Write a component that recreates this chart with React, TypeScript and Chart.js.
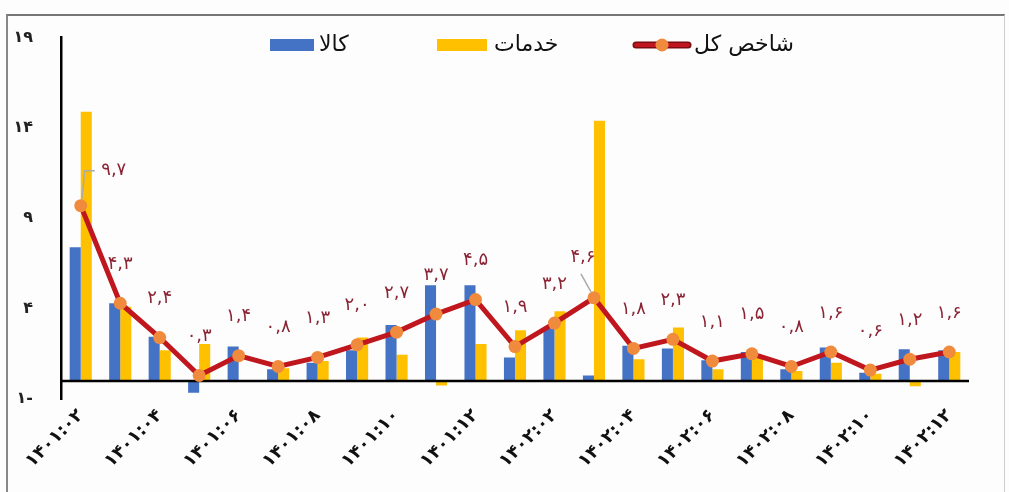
import React, { useEffect, useRef } from "react";
import { Chart, registerables } from "chart.js";

Chart.register(...registerables);

const xLabels = [
  "۱۴۰۱:۰۲", "۱۴۰۱:۰۳", "۱۴۰۱:۰۴", "۱۴۰۱:۰۵", "۱۴۰۱:۰۶", "۱۴۰۱:۰۷",
  "۱۴۰۱:۰۸", "۱۴۰۱:۰۹", "۱۴۰۱:۱۰", "۱۴۰۱:۱۱", "۱۴۰۱:۱۲", "۱۴۰۲:۰۱",
  "۱۴۰۲:۰۲", "۱۴۰۲:۰۳", "۱۴۰۲:۰۴", "۱۴۰۲:۰۵", "۱۴۰۲:۰۶", "۱۴۰۲:۰۷",
  "۱۴۰۲:۰۸", "۱۴۰۲:۰۹", "۱۴۰۲:۱۰", "۱۴۰۲:۱۱", "۱۴۰۲:۱۲",
];

const goods = [7.4, 4.3, 2.45, -0.65, 1.9, 0.65, 1.0, 1.7, 3.1, 5.3, 5.3, 1.3, 2.9, 0.3, 1.95, 1.8, 1.15, 1.6, 0.65, 1.85, 0.45, 1.75, 1.7];
const services = [14.9, 4.1, 1.7, 2.05, 0, 0.7, 1.1, 2.4, 1.45, -0.25, 2.05, 2.8, 3.85, 14.4, 1.2, 2.95, 0.65, 1.35, 0.55, 1.0, 0.4, -0.3, 1.6];
const total = [9.7, 4.3, 2.4, 0.3, 1.4, 0.8, 1.3, 2.0, 2.7, 3.7, 4.5, 1.9, 3.2, 4.6, 1.8, 2.3, 1.1, 1.5, 0.8, 1.6, 0.6, 1.2, 1.6];

const yTickLabels = ["۱-", "۴", "۹", "۱۴", "۱۹"];
const seriesNames = ["کالا", "خدمات", "شاخص کل"];

const BLUE = "#4472C4";
const YELLOW = "#FFC000";
const RED = "#C0161E";
const ORANGE = "#F08A3C";
const LABEL = "#8A2434";
const FONT = "'DejaVu Sans', sans-serif";

const faDigits = "۰۱۲۳۴۵۶۷۸۹";
const toFa = (v: number) =>
  v.toFixed(1).replace(".", ",").replace(/[0-9]/g, (d) => faDigits[+d]);

const overlayPlugin = {
  id: "overlay",
  beforeDatasetDraw(chart: any, args: any) {
    if (args.index !== 2) return;
    const { ctx, chartArea, scales } = chart;
    const y0 = scales.y.getPixelForValue(0);
    ctx.save();
    ctx.strokeStyle = "#000";
    ctx.lineWidth = 2.5;
    ctx.beginPath();
    ctx.moveTo(chartArea.left, y0);
    ctx.lineTo(chartArea.right, y0);
    ctx.stroke();
    ctx.restore();
  },
  afterDatasetsDraw(chart: any) {
    const { ctx } = chart;
    const meta = chart.getDatasetMeta(2);
    ctx.save();
    ctx.font = `18px ${FONT}`;
    ctx.fillStyle = LABEL;
    ctx.textAlign = "center";
    ctx.textBaseline = "middle";
    meta.data.forEach((pt: any, i: number) => {
      const txt = toFa(total[i]);
      let lx = pt.x;
      let ly = pt.y - 39;
      if (i === 0) {
        lx = pt.x + 33;
        ly = pt.y - 35;
        ctx.strokeStyle = "#aaa";
        ctx.lineWidth = 1.5;
        ctx.beginPath();
        ctx.moveTo(pt.x + 1, pt.y - 6);
        ctx.lineTo(pt.x + 4, ly);
        ctx.lineTo(pt.x + 14, ly);
        ctx.stroke();
      } else if (i === 13) {
        lx = pt.x - 11;
        ly = pt.y - 40;
        ctx.strokeStyle = "#aaa";
        ctx.lineWidth = 1.5;
        ctx.beginPath();
        ctx.moveTo(pt.x - 3, pt.y - 6);
        ctx.lineTo(pt.x - 13, pt.y - 24);
        ctx.stroke();
      }
      ctx.fillText(txt, lx, ly);
    });

    // legend
    ctx.font = `22px ${FONT}`;
    ctx.textAlign = "left";
    ctx.textBaseline = "middle";
    const ly = 45;
    ctx.fillStyle = BLUE;
    ctx.fillRect(270, ly - 6, 44, 12);
    ctx.fillStyle = "#111";
    ctx.fillText(seriesNames[0], 319, ly);
    ctx.fillStyle = YELLOW;
    ctx.fillRect(437, ly - 6, 50, 12);
    ctx.fillStyle = "#111";
    ctx.fillText(seriesNames[1], 494, ly);
    ctx.strokeStyle = "#7a0d12";
    ctx.lineWidth = 7;
    ctx.lineCap = "round";
    ctx.beginPath();
    ctx.moveTo(636, ly);
    ctx.lineTo(688, ly);
    ctx.stroke();
    ctx.strokeStyle = RED;
    ctx.lineWidth = 4;
    ctx.beginPath();
    ctx.moveTo(636, ly);
    ctx.lineTo(688, ly);
    ctx.stroke();
    ctx.fillStyle = ORANGE;
    ctx.beginPath();
    ctx.arc(662, ly, 6.5, 0, Math.PI * 2);
    ctx.fill();
    ctx.fillStyle = "#111";
    ctx.fillText(seriesNames[2], 694, ly);
    ctx.restore();
  },
};

export default function App() {
  const ref = useRef<HTMLCanvasElement>(null);
  useEffect(() => {
    if (!ref.current) return;
    const chart = new Chart(ref.current, {
      type: "bar",
      data: {
        labels: xLabels,
        datasets: [
          {
            type: "bar",
            label: seriesNames[0],
            data: goods,
            backgroundColor: BLUE,
            barPercentage: 1,
            categoryPercentage: 0.56,
            order: 1,
          },
          {
            type: "bar",
            label: seriesNames[1],
            data: services,
            backgroundColor: YELLOW,
            barPercentage: 1,
            categoryPercentage: 0.56,
            order: 1,
          },
          {
            type: "line",
            label: seriesNames[2],
            data: total,
            borderColor: RED,
            borderWidth: 5,
            pointRadius: 6.5,
            pointBackgroundColor: ORANGE,
            pointBorderColor: ORANGE,
            pointBorderWidth: 0,
            tension: 0,
            order: 0,
          } as any,
        ],
      },
      options: {
        responsive: false,
        animation: false,
        devicePixelRatio: 1,
        layout: { padding: { left: 0, top: 31, right: 40, bottom: 0 } },
        plugins: {
          legend: { display: false },
          tooltip: { enabled: false },
          title: { display: false },
        },
        scales: {
          x: {
            offset: true,
            grid: { display: false, drawTicks: false },
            border: { display: false },
            afterFit: (s: any) => {
              s.height = 93;
            },
            ticks: {
              autoSkip: false,
              minRotation: 45,
              maxRotation: 45,
              padding: 6,
              color: "#111",
              font: { family: FONT, size: 18, weight: "bold" },
              callback: (_v: any, i: number) => (i % 2 === 0 ? xLabels[i] : ""),
            },
          },
          y: {
            min: -1,
            max: 19,
            grid: { display: false, drawTicks: false },
            border: { display: true, color: "#000", width: 2.5 },
            afterFit: (s: any) => {
              s.width = 61;
            },
            ticks: {
              stepSize: 5,
              padding: 28,
              color: "#222",
              font: { family: FONT, size: 16, weight: "bold" },
              callback: (_v: any, i: number) => yTickLabels[i],
            },
          },
        },
      },
      plugins: [overlayPlugin],
    });
    return () => chart.destroy();
  }, []);

  return (
    <div style={{ position: "fixed", left: 0, top: 0, width: 1009, height: 492, background: "#fdfdfd" }}>
      <div
        style={{
          position: "absolute",
          left: 6,
          top: 14,
          width: 996,
          height: 490,
          borderTop: "2px solid #777",
          borderLeft: "2px solid #888",
          borderRight: "1px solid #ccc",
        }}
      />
      <canvas ref={ref} width={1009} height={492} style={{ position: "absolute", left: 0, top: 0 }} />
    </div>
  );
}
